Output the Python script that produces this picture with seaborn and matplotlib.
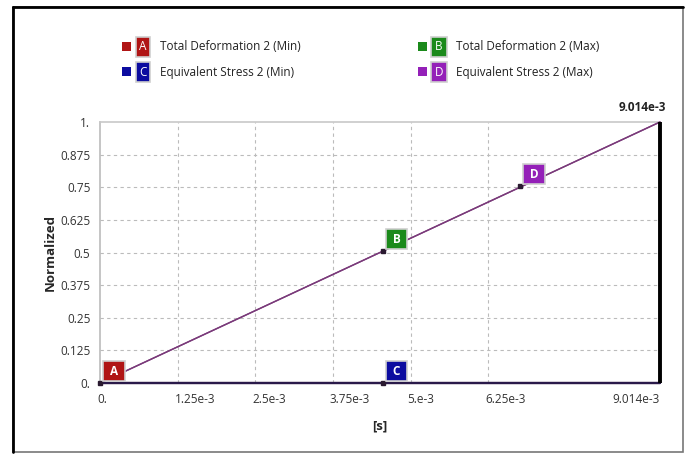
import matplotlib
matplotlib.use("Agg")
import matplotlib.pyplot as plt
import seaborn as sns
import pandas as pd
from matplotlib.patches import Rectangle
from matplotlib.transforms import ScaledTranslation

# time values [s] and normalized results
time = [0.0, 9.014e-3]
def_min = [0.0, 0.0]
def_max = [0.0, 1.0]
stress_min = [0.0, 0.0]
stress_max = [0.0, 1.0]

x_ticks = [0.0, 1.25e-3, 2.5e-3, 3.75e-3, 5e-3, 6.25e-3, 9.014e-3]
x_labels = ["0.", "1.25e-3", "2.5e-3", "3.75e-3", "5.e-3", "6.25e-3", "9.014e-3"]
y_ticks = [0, 0.125, 0.25, 0.375, 0.5, 0.625, 0.75, 0.875, 1.0]
y_labels = ["0.", "0.125", "0.25", "0.375", "0.5", "0.625", "0.75", "0.875", "1."]

# probe labels placed on the curves
probe_names = ["A", "B", "C", "D"]
probe_t = [0.0, 4.55e-3, 4.55e-3, 6.76e-3]
probe_val = [0.0, 0.505, 0.0, 0.755]
probe_colors = ["#b01515", "#1b8a1b", "#0c0ca0", "#9420b8"]

series_names = ["Total Deformation 2 (Min)", "Total Deformation 2 (Max)",
                "Equivalent Stress 2 (Min)", "Equivalent Stress 2 (Max)"]

sns.set_style("white")
plt.rcParams['font.family'] = ['Open Sans', 'DejaVu Sans']

fig = plt.figure(figsize=(6.88, 4.57), dpi=100)
ax = fig.add_axes([100/688, 1-383/457, 560/688, 261/457])

df_max = pd.DataFrame({"t": time * 2, "v": def_max + stress_max,
                       "s": [series_names[1]] * 2 + [series_names[3]] * 2})
df_min = pd.DataFrame({"t": time * 2, "v": def_min + stress_min,
                       "s": [series_names[0]] * 2 + [series_names[2]] * 2})
sns.lineplot(data=df_max, x="t", y="v", hue="s",
             palette=["#7a3a7a", "#7a3a7a"], linewidth=1.0,
             legend=False, ax=ax, clip_on=False, zorder=3)
sns.lineplot(data=df_min, x="t", y="v", hue="s",
             palette=["#3a1a3a", "#2a1a4a"], linewidth=1.6,
             legend=False, ax=ax, clip_on=False, zorder=3)

ax.set_xlim(0, 9.014e-3)
ax.set_ylim(0, 1)
ax.set_xticks(x_ticks)
ax.set_xticklabels(x_labels)
ax.set_yticks(y_ticks)
ax.set_yticklabels(y_labels)
ax.tick_params(axis="both", labelsize=8.5, length=4, width=0.8,
               direction="out", pad=3, colors="#aaaaaa", labelcolor="#333333")
shift = ScaledTranslation(-3/100, 0, fig.dpi_scale_trans)
for i, lab in enumerate(ax.get_xticklabels()):
    if i == len(x_labels) - 1:
        lab.set_ha("right")
    else:
        lab.set_ha("left")
        lab.set_transform(lab.get_transform() + shift)

for t in x_ticks[1:-1]:
    ax.axvline(t, color="#bbbbbb", ls=(0, (3, 3)), lw=0.8, zorder=1)
for v in y_ticks[1:-1]:
    ax.axhline(v, color="#bbbbbb", ls=(0, (3, 3)), lw=0.8, zorder=1)

for side in ["right", "bottom"]:
    ax.spines[side].set_visible(False)
ax.spines["left"].set_color("#bbbbbb")
ax.spines["top"].set_color("#c8c8c8")
ax.spines["left"].set_linewidth(1.2)
ax.spines["top"].set_linewidth(1.2)

# current time marker
ax.plot([time[-1], time[-1]], [0, 1], color="black", lw=2.8, zorder=4,
        clip_on=False, solid_capstyle="butt")
ax.annotate("9.014e-3", (time[-1], 1), xytext=(4, 6), textcoords="offset points",
            ha="right", va="bottom", fontsize=8.5, fontweight="bold", color="#222222")

ax.set_xlabel("[s]", fontsize=9.5, fontweight="bold", labelpad=10)
ax.set_ylabel("Normalized", fontsize=9.5, fontweight="bold", labelpad=2)

# probe markers
for name, t, v, c in zip(probe_names, probe_t, probe_val, probe_colors):
    ax.plot([t], [v], marker="s", ms=3.2, color="#2a1a30", clip_on=False, zorder=5)
    ax.annotate(" " + name + " ", (t, v), xytext=(5, 3.8), textcoords="offset points",
                ha="left", va="bottom", fontsize=8.5, fontweight="bold", color="white",
                bbox=dict(boxstyle="square,pad=0.3", fc=c, ec="#cfcfcf", lw=1.2),
                zorder=6, annotation_clip=False)

# legend drawn as figure text
leg_pos = [(122, 47), (418, 47), (122, 72), (418, 72)]
for (px, py), name, s, c in zip(leg_pos, probe_names, series_names, probe_colors):
    fig.patches.append(Rectangle((px/688, 1-(py+4)/457), 9/688, 9/457,
                                 transform=fig.transFigure, fc=c, ec="none"))
    fig.text((px+21)/688, 1-py/457, name, ha="center", va="center", fontsize=8.5,
             color="white",
             bbox=dict(boxstyle="square,pad=0.32", fc=c, ec="#cfcfcf", lw=1.2))
    fig.text((px+38)/688, 1-py/457, s, ha="left", va="center", fontsize=8.5,
             color="#222222")

# outer frame
fig.patches.append(Rectangle((13/688, 1-452/457), 670/688, 445/457,
                             transform=fig.transFigure, fc="none", ec="#777777", lw=1.2))
fig.lines.append(plt.Line2D([13/688, 13/688], [1-452/457, 1-7/457],
                            transform=fig.transFigure, color="black", lw=2))
fig.lines.append(plt.Line2D([13/688, 683/688], [1-7/457, 1-7/457],
                            transform=fig.transFigure, color="black", lw=2))

fig.savefig("out.png", dpi=100)
